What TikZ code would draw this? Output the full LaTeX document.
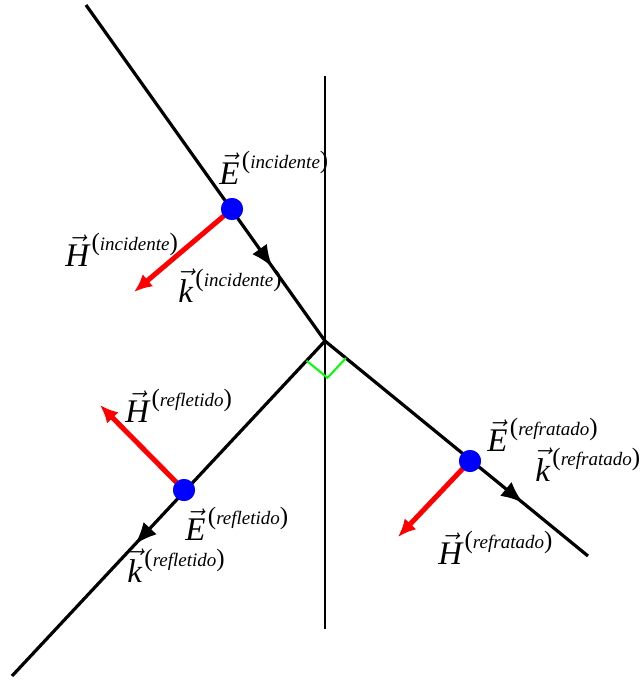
\documentclass[tikz,border=0pt]{standalone}
\usepackage{amsmath}
\usepackage{fontspec}
\setmainfont{Liberation Serif}
\usepackage{tikz}
\usetikzlibrary{arrows.meta,calc,decorations.markings}

\newcommand{\fieldlabel}[2]{\fontsize{16.5}{18}\selectfont$\vec{\text{\itshape #1}}$\kern1.2pt\raisebox{8pt}{\fontsize{12.5}{14}\selectfont(\fontsize{9.5}{12}\selectfont\textit{#2}\fontsize{12.5}{14}\selectfont)}}

\begin{document}
\begin{tikzpicture}[
    x=0.5pt, y=-0.5pt,
    ray/.style={draw, line width=1.6pt},
    midarrow/.style={postaction={decorate}, decoration={markings, mark=at position #1 with {\arrow{Latex[length=11pt,width=9pt]}}}},
    hfield/.style={draw=red, line width=2.5pt, -{Latex[length=9pt,width=8pt]}},
    efield/.style={circle, fill=blue, inner sep=0pt, minimum size=11pt},
    lbl/.style={anchor=base west, inner sep=0pt}
]
\useasboundingbox (0,0) rectangle (640,680);

% Interface and ray end points
\coordinate (O) at (325,341);
\coordinate (vTop) at (325,76);
\coordinate (vBot) at (325,629);
\coordinate (incStart) at (86,5);
\coordinate (refEnd) at (12,676);
\coordinate (trEnd) at (588,556);

% Interface
\draw[line width=0.9pt] (vTop) -- (vBot);

% Rays
\draw[ray, midarrow=0.78] (incStart) -- (O);
\draw[ray, midarrow=0.607] (O) -- (refEnd);
\draw[ray, midarrow=0.753] (O) -- (trEnd);

% Right angle mark
\coordinate (ra1) at ($(O)!13.5pt!(refEnd)$);
\coordinate (ra2) at ($(O)!13.5pt!(trEnd)$);
\draw[green, line width=1pt] (ra1) -- ($(ra1)+(ra2)-(O)$) -- (ra2);

% H field tips
\coordinate (Hinc) at (134,292);
\coordinate (Href) at (100,405);
\coordinate (Htr) at (398,537);

% Field vectors
\node[efield] (Einc) at (232,209) {};
\node[efield] (Eref) at (184,490) {};
\node[efield] (Etr) at (470,461) {};
\draw[hfield] (Einc.center) -- (Hinc);
\draw[hfield] (Eref.center) -- (Href);
\draw[hfield] (Etr.center) -- (Htr);
\node[efield] at (Einc) {};
\node[efield] at (Eref) {};
\node[efield] at (Etr) {};

% Labels
\node[lbl] (lEinc) at (219,184) {\fieldlabel{E}{incidente}};
\node[lbl] (lHinc) at (65,266) {\fieldlabel{H}{incidente}};
\node[lbl] (lkinc) at (178,302) {\fieldlabel{k}{incidente}};
\node[lbl] (lHref) at (125,422) {\fieldlabel{H}{refletido}};
\node[lbl] (lEref) at (185,540) {\fieldlabel{E}{refletido}};
\node[lbl] (lkref) at (127,582) {\fieldlabel{k}{refletido}};
\node[lbl] (lEtr) at (487,451) {\fieldlabel{E}{refratado}};
\node[lbl] (lktr) at (535,481) {\fieldlabel{k}{refratado}};
\node[lbl] (lHtr) at (438,564) {\fieldlabel{H}{refratado}};
\end{tikzpicture}
\end{document}
